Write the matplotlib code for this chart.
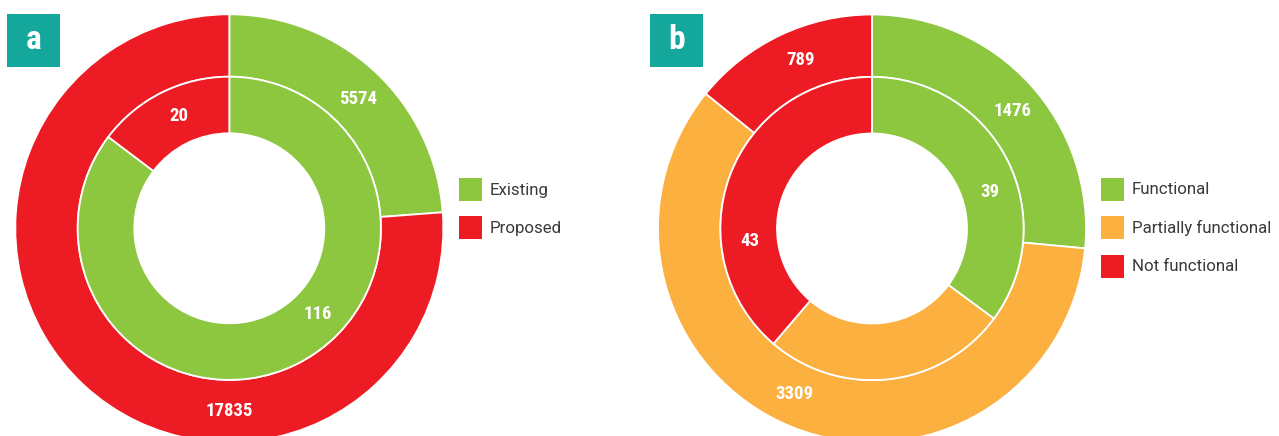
import matplotlib.pyplot as plt
import numpy as np
from matplotlib.patches import Rectangle

plt.rcParams['font.family'] = ['Roboto', 'DejaVu Sans']

# panel a: existing vs proposed
status_a = ['Existing', 'Proposed']
outer_a = [5574, 17835]
inner_a = [116, 20]

# panel b: functionality of existing
status_b = ['Functional', 'Partially functional', 'Not functional']
outer_b = [1476, 3309, 789]
inner_b = [39, 29, 43]
inner_b_shown = [True, False, True]

GREEN, RED, ORANGE, TEAL = '#8DC63F', '#ED1C24', '#FBB040', '#14A89D'
colors_a = [GREEN, RED]
colors_b = [GREEN, ORANGE, RED]

W, H = 1279, 436
R_OUT, R_MID, R_IN = 214, 151.6, 95
LABEL_FONT = dict(family=['Roboto Condensed', 'Roboto', 'DejaVu Sans'],
                  fontstretch='condensed', fontweight='bold', color='white',
                  fontsize=13.5, ha='center', va='center')

fig = plt.figure(figsize=(W / 100, H / 100), dpi=100)
ax = fig.add_axes([0, 0, 1, 1])


def donut(center, outer, inner, colors, outer_ang, inner_ang, inner_shown=None):
    wp = dict(edgecolor='white', linewidth=1.3)
    ax.pie(outer, colors=colors, radius=R_OUT, center=center, startangle=90,
           counterclock=False, wedgeprops=dict(width=R_OUT - R_MID, **wp))
    ax.pie(inner, colors=colors, radius=R_MID, center=center, startangle=90,
           counterclock=False, wedgeprops=dict(width=R_MID - R_IN, **wp))
    if inner_shown is None:
        inner_shown = [True] * len(inner)
    for vals, angs, r, shown in [(outer, outer_ang, (R_OUT + R_MID) / 2, [True] * len(outer)),
                                 (inner, inner_ang, (R_MID + R_IN) / 2, inner_shown)]:
        for v, a, s in zip(vals, angs, shown):
            if not s:
                continue
            t = np.deg2rad(a)
            ax.text(center[0] + r * np.sin(t), center[1] + r * np.cos(t), str(v), **LABEL_FONT)


def legend(x, y_top, names, colors):
    for i, (n, c) in enumerate(zip(names, colors)):
        yc = H - (y_top + 38.3 * i)
        ax.add_patch(Rectangle((x, yc - 11.5), 23, 23, color=c, lw=0))
        ax.text(x + 30.5, yc - 0.5, n, fontsize=12.2, color='#3A3A3A', ha='left', va='center')


def panel_tag(x, letter):
    ax.add_patch(Rectangle((x, H - 66.7), 53, 53, color=TEAL, lw=0))
    ax.text(x + 26.5, H - 40.3, letter, color='white', fontsize=24, fontweight='bold',
            family=['Roboto Condensed', 'Roboto', 'DejaVu Sans'], fontstretch='condensed',
            ha='center', va='center')


# label angles (clockwise from top)
donut((229.3, H - 228.3), outer_a, inner_a, colors_a, [45, 180], [134, 336])
donut((872, H - 228.5), outer_b, inner_b, colors_b, [50, 205, 337], [73, 0, 264], inner_b_shown)

legend(459, 189.5, status_a, colors_a)
legend(1101, 189.5, status_b, colors_b)
panel_tag(7, 'a')
panel_tag(650, 'b')

ax.set_xlim(0, W)
ax.set_ylim(0, H)
ax.set_aspect('auto')
ax.axis('off')

fig.savefig('out.png', dpi=100)
